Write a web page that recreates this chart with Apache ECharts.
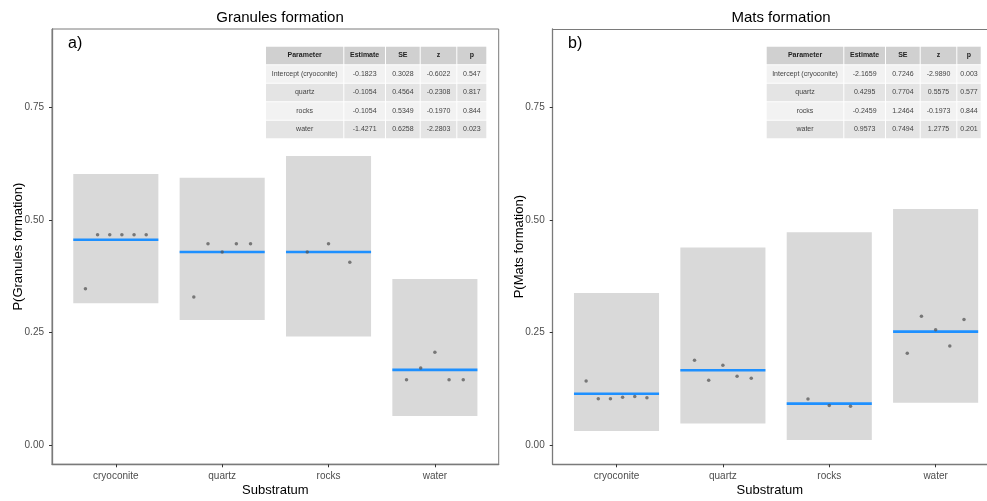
<!DOCTYPE html>
<html><head><meta charset="utf-8">
<script src="https://cdn.jsdelivr.net/npm/echarts@6/dist/echarts.min.js"></script>
<style>html,body{margin:0;padding:0;background:#fff}#c{width:987px;height:501px}</style>
</head><body><div id="c"></div>
<script>
// ---------------- data ----------------
const categories = ['cryoconite', 'quartz', 'rocks', 'water'];
const yTicks = [0, 0.25, 0.5, 0.75];

// Panel a: Granules formation
const granLow  = [0.315, 0.278, 0.241, 0.0645];
const granHigh = [0.602, 0.594, 0.642, 0.369];
const granFit  = [0.456, 0.429, 0.429, 0.167];
const granPts  = [
  [0.347, 0.467, 0.467, 0.467, 0.467, 0.467],
  [0.329, 0.447, 0.429, 0.447, 0.447],
  [0.429, 0.447, 0.406],
  [0.145, 0.171, 0.206, 0.145, 0.145]
];

// Panel b: Mats formation
const matsLow  = [0.031, 0.048, 0.011, 0.094];
const matsHigh = [0.338, 0.439, 0.473, 0.5245];
const matsFit  = [0.114, 0.166, 0.092, 0.252];
const matsPts  = [
  [0.142, 0.103, 0.103, 0.106, 0.108, 0.105],
  [0.1885, 0.144, 0.177, 0.153, 0.1485],
  [0.102, 0.0875, 0.086],
  [0.204, 0.286, 0.256, 0.220, 0.279]
];

// Model tables
const tableHeader = ['Parameter', 'Estimate', 'SE', 'z', 'p'];
const tableGran = [
  ['Intercept (cryoconite)', '-0.1823', '0.3028', '-0.6022', '0.547'],
  ['quartz', '-0.1054', '0.4564', '-0.2308', '0.817'],
  ['rocks', '-0.1054', '0.5349', '-0.1970', '0.844'],
  ['water', '-1.4271', '0.6258', '-2.2803', '0.023']
];
const tableMats = [
  ['Intercept (cryoconite)', '-2.1659', '0.7246', '-2.9890', '0.003'],
  ['quartz', '0.4295', '0.7704', '0.5575', '0.577'],
  ['rocks', '-0.2459', '1.2464', '-0.1973', '0.844'],
  ['water', '0.9573', '0.7494', '1.2775', '0.201']
];

// ---------------- layout ----------------
const FONT = '"Liberation Sans", Arial, sans-serif';
const AXC = '#7a7a7a';
const grids = [
  {left: 52, top: 29, width: 446.7, height: 435.3, show: true, borderColor: AXC, borderWidth: 1,
   outerBoundsMode: 'none'},
  {left: 552.7, top: 29, width: 434.3, height: 435.3, show: false, outerBoundsMode: 'none'}
];
const xMax = [3.6, 3.483];   // panel b is cut off at the right edge of the picture
const BOXW = 0.8;

function pointData(pts) {
  const out = [];
  pts.forEach((arr, i) => {
    const n = arr.length;
    arr.forEach((v, k) => out.push([i - BOXW / 2 + BOXW * (k + 1) / (n + 1), v]));
  });
  return out;
}

function boxSeries(gi, lo, hi) {
  return {
    type: 'custom', xAxisIndex: gi, yAxisIndex: gi, z: 1,
    data: categories.map((c, i) => [i, lo[i], hi[i]]),
    renderItem: (p, api) => {
      const i = api.value(0);
      const a = api.coord([i - BOXW / 2, api.value(2)]);
      const b = api.coord([i + BOXW / 2, api.value(1)]);
      return {type: 'rect', shape: {x: a[0], y: a[1], width: b[0] - a[0], height: b[1] - a[1]},
              style: {fill: '#d9d9d9'}};
    }
  };
}
function fitSeries(gi, fit) {
  return {
    type: 'custom', xAxisIndex: gi, yAxisIndex: gi, z: 2,
    data: categories.map((c, i) => [i, fit[i]]),
    renderItem: (p, api) => {
      const i = api.value(0);
      const a = api.coord([i - BOXW / 2, api.value(1)]);
      const b = api.coord([i + BOXW / 2, api.value(1)]);
      return {type: 'line', shape: {x1: a[0], y1: a[1], x2: b[0], y2: b[1]},
              style: {stroke: '#1e90ff', lineWidth: 2.6}};
    }
  };
}
function ptSeries(gi, pts) {
  return {
    type: 'scatter', xAxisIndex: gi, yAxisIndex: gi, z: 3,
    data: pointData(pts), symbolSize: 3.5, silent: true,
    itemStyle: {color: '#555', opacity: 0.75}
  };
}

function xAxis(gi) {
  return {
    type: 'value', gridIndex: gi, min: -0.6, max: xMax[gi], position: 'bottom',
    axisLine: {show: true, onZero: false, lineStyle: {color: AXC, width: 1.3}},
    axisTick: {show: true, customValues: [0, 1, 2, 3], length: 3, lineStyle: {color: '#333'}},
    axisLabel: {customValues: [0, 1, 2, 3], formatter: v => categories[Math.round(v)],
                color: '#4d4d4d', fontSize: 10, fontFamily: FONT, margin: 7},
    splitLine: {show: false},
    name: 'Substratum', nameLocation: 'middle', nameGap: 20, nameMoveOverlap: false,
    nameTextStyle: {color: '#000', fontSize: 13, fontFamily: FONT}
  };
}
function topLine(gi) {
  return {
    type: 'value', gridIndex: gi, min: -0.6, max: xMax[gi], position: 'top',
    axisLine: {show: true, onZero: false, lineStyle: {color: AXC, width: 1}},
    axisTick: {show: false}, axisLabel: {show: false}, splitLine: {show: false}
  };
}
function yAxis(gi, name) {
  return {
    type: 'value', gridIndex: gi, min: -0.0429, max: 0.9244,
    axisLine: {show: true, onZero: false, lineStyle: {color: AXC, width: 1.3}},
    axisTick: {show: true, customValues: yTicks, length: 3, lineStyle: {color: '#333'}},
    axisLabel: {customValues: yTicks, formatter: v => v.toFixed(2),
                color: '#4d4d4d', fontSize: 10, fontFamily: FONT, margin: 8},
    splitLine: {show: false},
    name: name, nameLocation: 'middle', nameGap: 27, nameMoveOverlap: false,
    nameTextStyle: {color: '#000', fontSize: 13, fontFamily: FONT}
  };
}

function tableGraphic(x0, colW, rows) {
  const els = [];
  const y0 = 46.7, rh = 18.5;
  const all = [tableHeader].concat(rows);
  all.forEach((row, r) => {
    let x = x0;
    const fill = r === 0 ? '#d0d0d0' : (r % 2 === 1 ? '#f2f2f2' : '#e4e4e4');
    row.forEach((txt, c) => {
      const w = colW[c];
      els.push({type: 'rect', shape: {x: x, y: y0 + r * rh, width: w - 1, height: rh - 1},
                style: {fill: fill}, z: 10});
      els.push({type: 'text', x: x + (w - 1) / 2, y: y0 + r * rh + (rh - 1) / 2, z: 11,
                style: {text: txt, align: 'center', verticalAlign: 'middle',
                        fontSize: 7, fontFamily: FONT, fill: r === 0 ? '#222' : '#444',
                        fontWeight: r === 0 ? 'bold' : 'normal'}});
      x += w;
    });
  });
  return els;
}

const option = {
  animation: false,
  backgroundColor: '#fff',
  title: [
    {text: 'Granules formation', left: 275, top: 5, textAlign: 'center',
     textStyle: {fontSize: 15, fontWeight: 'normal', color: '#000', fontFamily: FONT}},
    {text: 'Mats formation', left: 776, top: 5, textAlign: 'center',
     textStyle: {fontSize: 15, fontWeight: 'normal', color: '#000', fontFamily: FONT}}
  ],
  grid: grids,
  xAxis: [xAxis(0), xAxis(1), topLine(1)],
  yAxis: [yAxis(0, 'P(Granules formation)'), yAxis(1, 'P(Mats formation)')],
  series: [
    boxSeries(0, granLow, granHigh), fitSeries(0, granFit), ptSeries(0, granPts),
    boxSeries(1, matsLow, matsHigh), fitSeries(1, matsFit), ptSeries(1, matsPts)
  ],
  graphic: [
    {type: 'text', x: 68, y: 36, style: {text: 'a)', fontSize: 16, fontFamily: FONT, fill: '#000'}},
    {type: 'text', x: 568, y: 36, style: {text: 'b)', fontSize: 16, fontFamily: FONT, fill: '#000'}}
  ].concat(tableGraphic(266, [78.3, 41.7, 34.7, 36.6, 30], tableGran))
   .concat(tableGraphic(766.7, [77.6, 41.7, 34.7, 36.6, 24.4], tableMats))
};

const chart = echarts.init(document.getElementById('c'), null, {renderer: 'canvas'});
chart.setOption(option);
</script>
</body></html>
